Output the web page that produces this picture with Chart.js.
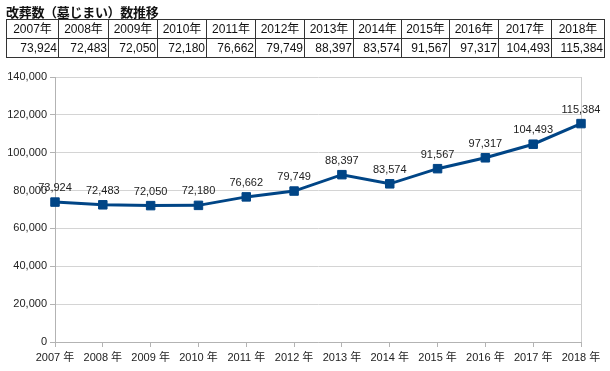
<!DOCTYPE html>
<html>
<head>
<meta charset="utf-8">
<script src="https://cdn.jsdelivr.net/npm/chart.js@4.4.0/dist/chart.umd.min.js"></script>
<style>
  html, body { margin:0; padding:0; background:#fff; }
  body { width:610px; height:371px; position:relative; overflow:hidden;
         font-family:'Liberation Sans','Noto Sans CJK JP',sans-serif; }
  #title { position:absolute; left:6px; top:3px; font-size:13px; font-weight:bold;
           font-family:'Noto Sans CJK JP',sans-serif; color:#111; line-height:17px; letter-spacing:-0.3px; }
  #tbl { position:absolute; left:6px; top:19px; border-collapse:collapse; table-layout:fixed; }
  #tbl td { border:1px solid #333; height:18px; padding:1px 1px 0 1px; font-size:12px; color:#111;
            line-height:17px; white-space:nowrap; overflow:hidden; box-sizing:border-box; }
  #tbl tr.y td { text-align:center; }
  #tbl tr.v td { text-align:right; padding-right:1px; }
  #wrap { position:absolute; left:0; top:0; width:610px; height:371px; }
</style>
</head>
<body>
<div id="wrap"><canvas id="c" width="610" height="371"></canvas></div>
<div id="title">改葬数（墓じまい）数推移</div>
<table id="tbl"><tr class="y" id="rowY"></tr><tr class="v" id="rowV"></tr></table>
<script>
const years = ['2007年','2008年','2009年','2010年','2011年','2012年','2013年','2014年','2015年','2016年','2017年','2018年'];
const axisLabels = ['2007 年','2008 年','2009 年','2010 年','2011 年','2012 年','2013 年','2014 年','2015 年','2016 年','2017 年','2018 年'];
const values = [73924, 72483, 72050, 72180, 76662, 79749, 88397, 83574, 91567, 97317, 104493, 115384];
const colWidths = [52, 50, 49, 49, 49, 49, 49, 48, 48, 49, 53, 53];

const fmt = v => v.toLocaleString('en-US');
const rowY = document.getElementById('rowY');
const rowV = document.getElementById('rowV');
years.forEach((y, i) => {
  const a = document.createElement('td'); a.textContent = y; a.style.width = colWidths[i] + 'px'; rowY.appendChild(a);
  const b = document.createElement('td'); b.textContent = fmt(values[i]); b.style.width = colWidths[i] + 'px'; rowV.appendChild(b);
});

const FONT = "'Liberation Sans','Noto Sans CJK JP',sans-serif";
const labelPlugin = {
  id: 'valLabels',
  afterDatasetsDraw(chart) {
    const ctx = chart.ctx;
    const meta = chart.getDatasetMeta(0);
    ctx.save();
    ctx.font = '11px ' + FONT;
    ctx.fillStyle = '#222';
    ctx.textAlign = 'center';
    ctx.textBaseline = 'middle';
    meta.data.forEach((pt, i) => {
      ctx.fillText(fmt(values[i]), pt.x, pt.y - 14);
    });
    ctx.restore();
  }
};

new Chart(document.getElementById('c'), {
  type: 'line',
  data: {
    labels: axisLabels,
    datasets: [{
      data: values,
      borderColor: '#004586',
      backgroundColor: '#004586',
      borderWidth: 3,
      pointStyle: 'rect',
      pointRadius: 6,
      pointBorderWidth: 1,
      pointHoverRadius: 6,
      tension: 0
    }]
  },
  options: {
    responsive: false,
    animation: false,
    events: [],
    layout: { padding: { top: 77, right: 29, left: 0, bottom: 0 } },
    plugins: { legend: { display: false }, tooltip: { enabled: false } },
    scales: {
      x: {
        offset: false,
        grid: {
          display: true,
          drawOnChartArea: true,
          color: ctx => (ctx.index === 11 ? '#cccccc' : 'rgba(0,0,0,0)'),
          tickColor: '#b3b3b3',
          tickLength: 5
        },
        border: { color: '#b3b3b3', width: 1 },
        ticks: { font: { size: 11, family: FONT }, color: '#222', padding: 4, maxRotation: 0, autoSkip: false },
        afterFit: s => { s.height = 29; }
      },
      y: {
        min: 0, max: 140000,
        ticks: { stepSize: 20000, font: { size: 11, family: FONT }, color: '#222', padding: 3,
                 callback: v => fmt(v) },
        grid: { color: '#d4d4d4', tickColor: '#b3b3b3', tickLength: 5 },
        border: { color: '#b3b3b3', width: 1 },
        afterFit: s => { s.width = 55; }
      }
    }
  },
  plugins: [labelPlugin]
});
</script>
</body>
</html>
